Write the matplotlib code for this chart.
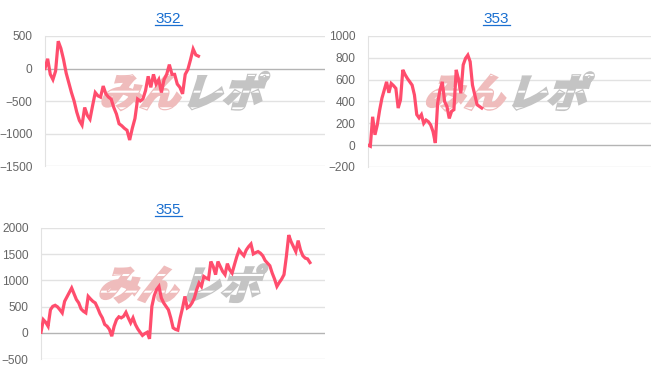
import numpy as np
import matplotlib
matplotlib.use("Agg")
from matplotlib import pyplot as plt
from matplotlib.lines import Line2D
from matplotlib.patches import PathPatch
from matplotlib.textpath import TextPath
from matplotlib.font_manager import FontProperties
from matplotlib.transforms import Affine2D, ScaledTranslation

plt.rcParams['font.family'] = ['Liberation Sans', 'DejaVu Sans']
plt.rcParams['hatch.linewidth'] = 1.5

# data (running balance per game)
titles = ['352', '353', '355']

s352 = [0, 150, -90, -170, -40, 420, 310, 140, -70, -220, -370, -500, -670, -800,
        -870, -600, -720, -780, -570, -370, -420, -440, -270, -390, -440, -470,
        -600, -700, -850, -880, -920, -950, -1100, -920, -770, -470, -500, -470,
        -340, -120, -290, -90, -240, -170, -370, -170, -90, 60, -90, -90, -240,
        -290, -390, -90, -15, 135, 300, 210, 190]

s353 = [0, -10, 260, 95, 185, 320, 430, 505, 580, 480, 565, 545, 520, 340, 415,
        690, 645, 610, 580, 550, 460, 280, 250, 280, 200, 230, 215, 185, 125, 20,
        385, 505, 580, 400, 355, 245, 310, 325, 690, 600, 475, 735, 795, 825, 765,
        550, 460, 370, 355, 340]

s355 = [10, 250, 200, 125, 440, 505, 525, 495, 440, 380, 600, 685, 770, 855, 745,
        635, 570, 455, 410, 380, 695, 645, 600, 570, 475, 365, 285, 160, 125, 65,
        -65, 125, 250, 305, 285, 315, 390, 285, 190, 285, 160, 75, 10, -50, -15,
        10, -115, 505, 710, 825, 885, 665, 570, 505, 440, 285, 95, 65, 50, 285,
        475, 695, 475, 505, 570, 665, 825, 950, 885, 1075, 1045, 1025, 1360, 1265,
        1110, 1360, 1265, 1170, 1110, 1320, 1200, 1140, 1300, 1455, 1580, 1520,
        1470, 1580, 1645, 1695, 1505, 1530, 1550, 1520, 1470, 1380, 1330, 1280,
        1140, 1025, 885, 960, 1025, 1110, 1455, 1865, 1740, 1645, 1550, 1760, 1580,
        1470, 1425, 1410, 1340]

series = [s352, s353, s355]
yticks = [[-1500, -1000, -500, 0, 500],
          [-200, 0, 200, 400, 600, 800, 1000],
          [-500, 0, 500, 1000, 1500, 2000]]

W, H = 652, 382
fig = plt.figure(figsize=(W / 100, H / 100), dpi=100)

# axes boxes in pixels: left, top, right, bottom
boxes = [(45, 36, 325, 166), (368, 36, 651, 167), (41, 228, 325, 359)]
# fraction of the axis width that the line covers
span = [0.548, 0.402, 0.947]
# title centre and baseline in pixels
title_pos = [(168, 23), (496, 23), (168, 214)]

line_color = '#ff4d6d'
link = '#1a6fd0'
jp = FontProperties(family='Noto Sans CJK JP', weight='black')


def watermark(ax):
    # "みんレポ" logo, slanted and cut by white stripes, behind the line
    size = 40
    parts = [('みん', '#efbcbc'), ('レポ', '#c4c4c4')]
    x0 = -86
    for txt, col in parts:
        tp = TextPath((0, 0), txt, size=size, prop=jp)
        tr = (Affine2D().skew_deg(18, 0).translate(x0, -15)
              + ScaledTranslation(0.5, 0.57, ax.transAxes))
        ax.add_artist(PathPatch(tp, transform=tr, facecolor=col, edgecolor=col,
                                linewidth=1.6, zorder=1))
        ax.add_artist(PathPatch(tp, transform=tr, facecolor='none', edgecolor='white',
                                linewidth=0, hatch='-', zorder=1.5))
        x0 += 82


for i in range(3):
    l, t, r, b = boxes[i]
    ax = fig.add_axes([l / W, 1 - b / H, (r - l) / W, (b - t) / H])
    ys = series[i]
    xs = np.arange(len(ys))
    ax.plot(xs, ys, color=line_color, lw=2.3, zorder=3, solid_joinstyle='miter')
    ax.set_xlim(0, (len(ys) - 1) / span[i])
    ax.set_ylim(yticks[i][0], yticks[i][-1])
    ax.set_yticks(yticks[i])
    ax.set_xticks([])
    for tk in yticks[i]:
        ax.axhline(tk, color='#b4b4b4' if tk == 0 else '#e2e2e2', lw=1, zorder=0)
    for sp in ['top', 'right', 'bottom']:
        ax.spines[sp].set_visible(False)
    ax.spines['left'].set_color('#e2e2e2')
    ax.tick_params(axis='y', length=0, pad=9, labelsize=8.6, labelcolor='#666666')
    watermark(ax)

    cx, base = title_pos[i]
    fig.text(cx / W, 1 - base / H, titles[i], ha='center', va='baseline',
             fontsize=11, color=link)
    fig.add_artist(Line2D([(cx - 13.5) / W, (cx + 13.5) / W], [1 - (base + 2) / H] * 2,
                          color=link, lw=0.9))

fig.savefig('out.png', dpi=100)
